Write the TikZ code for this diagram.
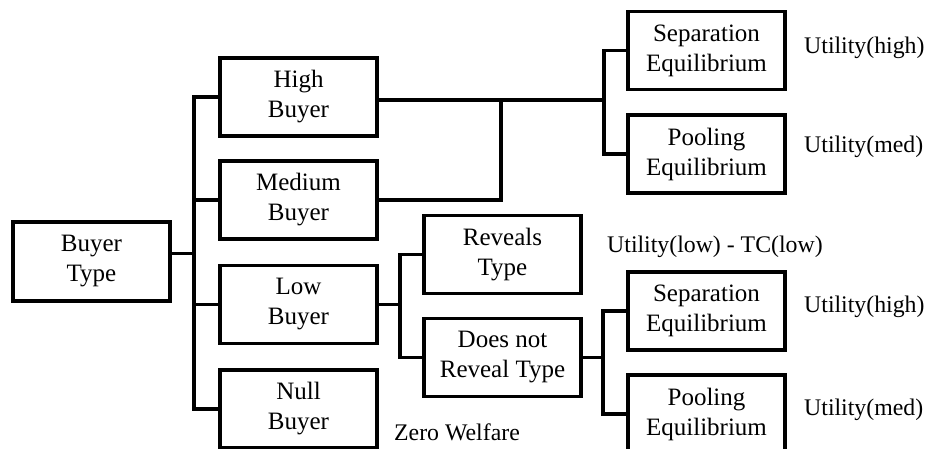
\documentclass[tikz,border=0pt]{standalone}
\usepackage{fontspec}
\setmainfont{Liberation Serif}
\begin{document}
\begin{tikzpicture}[x=1pt,y=-1pt,
  box/.style={draw, line width=3.2pt, minimum width=157pt, minimum height=78pt,
    align=center, inner sep=0pt, font=\fontsize{25}{30}\selectfont},
  conn/.style={line width=3.2pt, line cap=rect},
  lbl/.style={anchor=west, inner sep=0pt, font=\fontsize{23.8}{30}\selectfont}]
\useasboundingbox (0,0) rectangle (930,449);

% root and first-level buyer classes
\node[box, minimum height=79pt] (bt) at (91.5,261.5) {Buyer\\Type};
\node[box] (high)   at (298.5,97)    {High\\Buyer};
\node[box] (medium) at (298.5,200)   {Medium\\Buyer};
\node[box] (low)    at (298.5,304.5) {Low\\Buyer};
\node[box] (null)   at (298.5,409)   {Null\\Buyer};

% low buyer choices
\node[box] (reveals) at (502.5,254.5) {Reveals\\Type};
\node[box] (doesnot) at (502.5,357.5) {Does not\\Reveal Type};

% equilibria
\node[box] (sep1)  at (706.5,50.5) {Separation\\Equilibrium};
\node[box] (pool1) at (706.5,154)  {Pooling\\Equilibrium};
\node[box] (sep2)  at (706.5,311)  {Separation\\Equilibrium};
\node[box] (pool2) at (706.5,414)  {Pooling\\Equilibrium};

% outcome labels
\node[lbl] (u1) at (804,48)  {Utility(high)};
\node[lbl] (u2) at (804,147) {Utility(med)};
\node[lbl] (u3) at (607,247) {Utility(low) - TC(low)};
\node[lbl] (u4) at (804,307) {Utility(high)};
\node[lbl] (u5) at (804,410) {Utility(med)};
\node[lbl] (zw) at (394,432) {Zero Welfare};

% junction columns
\coordinate (t1) at (194,0);
\coordinate (t2) at (501,0);
\coordinate (t3) at (604,0);
\coordinate (t4) at (400,0);
\coordinate (t5) at (603,0);

% root to buyer classes
\draw[conn] ([yshift=8pt]bt.east) -- ([yshift=8pt]bt.east -| t1);
\draw[conn] (high.west) -- (high.west -| t1) -- (null.west -| t1) -- (null.west);
\draw[conn] (medium.west) -- (medium.west -| t1);
\draw[conn] (low.west) -- (low.west -| t1);

% high and medium buyers to equilibria
\draw[conn] ([yshift=-3pt]high.east) -- ([yshift=-3pt]high.east -| t3);
\draw[conn] (medium.east) -- (medium.east -| t2) -- ([yshift=-3pt]high.east -| t2);
\draw[conn] (sep1.west) -- (sep1.west -| t3) -- (pool1.west -| t3) -- (pool1.west);

% low buyer choices
\draw[conn] (low.east) -- (low.east -| t4);
\draw[conn] (reveals.west) -- (reveals.west -| t4) -- (doesnot.west -| t4) -- (doesnot.west);

% not revealing leads to equilibria
\draw[conn] (doesnot.east) -- (doesnot.east -| t5);
\draw[conn] (sep2.west) -- (sep2.west -| t5) -- (pool2.west -| t5) -- (pool2.west);
\end{tikzpicture}
\end{document}
